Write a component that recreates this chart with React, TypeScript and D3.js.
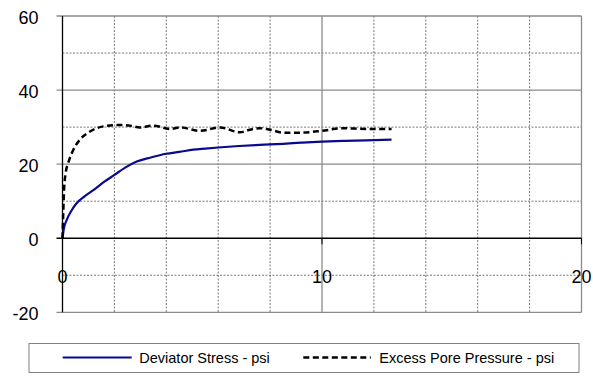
import React from "react";
import * as d3 from "d3";

const deviatorX = [0, 0.05, 0.16, 0.35, 0.55, 0.85, 1.19, 1.6, 2.0, 2.4, 2.86, 3.4, 4.0, 4.5, 5.04, 5.5, 6.0, 6.8, 7.6, 8.5, 9.2, 10.0, 10.8, 11.7, 12.68];
const deviatorY = [0, 2.5, 4.9, 7.5, 9.5, 11.3, 13, 15.2, 17.1, 19.0, 20.7, 21.8, 22.8, 23.3, 23.9, 24.2, 24.5, 24.9, 25.2, 25.5, 25.8, 26.1, 26.3, 26.4, 26.6];

const poreX = [0, 0.03, 0.06, 0.12, 0.22, 0.42, 0.67, 1.06, 1.57, 2.2, 2.6, 2.98, 3.5, 4.14, 4.53, 5.3, 6.07, 6.84, 7.22, 7.6, 8.0, 8.5, 9.15, 10.0, 10.8, 11.7, 12.68];
const poreY = [0, 7, 13, 17.5, 20.3, 23.9, 26.6, 28.8, 30.2, 30.6, 30.4, 29.9, 30.4, 29.5, 29.9, 29.0, 29.9, 28.6, 29.3, 29.7, 29.3, 28.5, 28.5, 29.0, 29.7, 29.5, 29.5];

const yTicks = [60, 40, 20, 0, -20];
const xTicks = [0, 10, 20];
const seriesNames = ["Deviator Stress - psi", "Excess Pore Pressure - psi"];

export default function App() {
  const left = 62.5, right = 581.5, top = 16, bottom = 312.3;
  const x = d3.scaleLinear().domain([0, 20]).range([left, right]);
  const y = d3.scaleLinear().domain([-20, 60]).range([bottom, top]);

  const line = d3
    .line<[number, number]>()
    .x((d) => x(d[0]))
    .y((d) => y(d[1]))
    .curve(d3.curveMonotoneX);

  const devData: [number, number][] = deviatorX.map((v, i) => [v, deviatorY[i]]);
  const poreData: [number, number][] = poreX.map((v, i) => [v, poreY[i]]);

  const minorX = d3.range(2, 20, 2).filter((v) => v % 10 !== 0);
  const minorY = [50, 30, 10, -10];
  const font = "Arial, 'Liberation Sans', sans-serif";
  const legY = 357.5;

  return (
    <svg
      width={593}
      height={383}
      style={{ position: "absolute", left: 0, top: 0, background: "#fff" }}
    >
      <rect x={0} y={0} width={593} height={383} fill="#fff" />
      {minorX.map((v) => (
        <line key={"mx" + v} x1={x(v)} x2={x(v)} y1={top} y2={bottom} stroke="#555" strokeWidth={0.8} strokeDasharray="2,1.5" />
      ))}
      {minorY.map((v) => (
        <line key={"my" + v} x1={left} x2={right} y1={y(v)} y2={y(v)} stroke="#555" strokeWidth={0.8} strokeDasharray="2,1.5" />
      ))}
      {[60, 40, 20, -20].map((v) => (
        <line key={"My" + v} x1={left - 6} x2={right} y1={y(v)} y2={y(v)} stroke="#8a8a8a" strokeWidth={1.3} />
      ))}
      {[10, 20].map((v) => (
        <line key={"Mx" + v} x1={x(v)} x2={x(v)} y1={top} y2={bottom} stroke="#8a8a8a" strokeWidth={1.3} />
      ))}
      <line x1={left - 6} x2={right} y1={y(0)} y2={y(0)} stroke="#000" strokeWidth={1.3} />
      <line x1={left} x2={left} y1={top} y2={bottom} stroke="#000" strokeWidth={1.3} />
      {[10, 20].map((v) => (
        <line key={"tx" + v} x1={x(v)} x2={x(v)} y1={y(0)} y2={y(0) + 6} stroke="#000" strokeWidth={1} />
      ))}
      {yTicks.map((v) => (
        <text key={"yl" + v} x={38.5} y={y(v) + 7.5} textAnchor="end" fontFamily={font} fontSize={18} fill="#000">
          {v}
        </text>
      ))}
      {xTicks.map((v) => (
        <text key={"xl" + v} x={x(v)} y={282.5} textAnchor="middle" fontFamily={font} fontSize={18} fill="#000">
          {v}
        </text>
      ))}
      <path d={line(devData) || ""} fill="none" stroke="#0a0a8c" strokeWidth={2.2} />
      <path d={line(poreData) || ""} fill="none" stroke="#000" strokeWidth={2.5} strokeDasharray="6,3.5" />
      <rect x={29} y={343.5} width={550} height={29} fill="#fff" stroke="#808080" strokeWidth={1} />
      <line x1={62.7} x2={131.7} y1={legY} y2={legY} stroke="#0a0a8c" strokeWidth={2.2} />
      <text x={139.3} y={legY + 5} fontFamily={font} fontSize={14.5} fill="#000">
        {seriesNames[0]}
      </text>
      <line x1={303.3} x2={370.7} y1={legY} y2={legY} stroke="#000" strokeWidth={2.5} strokeDasharray="6,3.5" />
      <text x={379.3} y={legY + 5} fontFamily={font} fontSize={14.5} fill="#000">
        {seriesNames[1]}
      </text>
    </svg>
  );
}
